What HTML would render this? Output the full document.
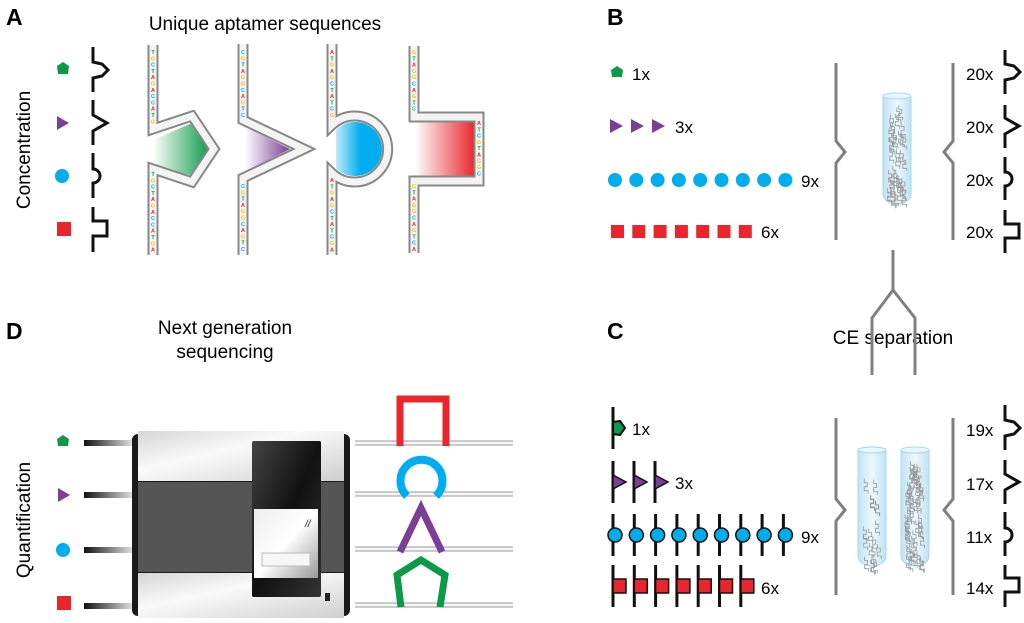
<!DOCTYPE html>
<html><head><meta charset="utf-8"><style>
html,body{margin:0;padding:0;background:#fff}
svg{display:block}
text{font-family:"Liberation Sans",sans-serif}
</style></head><body>
<svg id="s" width="1024" height="623" viewBox="0 0 1024 623" xmlns="http://www.w3.org/2000/svg">
<defs>
<linearGradient id="gG" x1="0" x2="1"><stop offset="0" stop-color="#fff"/><stop offset="1" stop-color="#0a9a48"/></linearGradient>
<linearGradient id="gP" x1="0" x2="1"><stop offset="0" stop-color="#fff"/><stop offset="1" stop-color="#7b3f98"/></linearGradient>
<linearGradient id="gB" x1="0" x2="1"><stop offset="0" stop-color="#fff"/><stop offset=".6" stop-color="#00aeef"/></linearGradient>
<linearGradient id="gR" x1="0" x2="1"><stop offset="0" stop-color="#fff"/><stop offset="1" stop-color="#e8262b"/></linearGradient>
<linearGradient id="bar" x1="0" x2="1"><stop offset="0" stop-color="#111"/><stop offset="1" stop-color="#ddd"/></linearGradient>
<linearGradient id="lg" x1="0" y1="0" x2="1" y2="1"><stop offset="0" stop-color="#d5d5d5"/><stop offset=".4" stop-color="#fafafa"/><stop offset="1" stop-color="#cfcfcf"/></linearGradient>
<linearGradient id="dk" x1="0" y1="0" x2="1" y2="1"><stop offset="0" stop-color="#444"/><stop offset=".5" stop-color="#111"/><stop offset="1" stop-color="#333"/></linearGradient>
<linearGradient id="wt" x1="0" y1="0" x2="1" y2="1"><stop offset="0" stop-color="#eee"/><stop offset=".5" stop-color="#fff"/><stop offset="1" stop-color="#999"/></linearGradient>
<linearGradient id="tube" x1="0" x2="1"><stop offset="0" stop-color="#bfe3f5"/><stop offset=".5" stop-color="#eef8fd"/><stop offset="1" stop-color="#bfe3f5"/></linearGradient>
<clipPath id="cc"><rect x="336" y="100" width="60" height="100"/></clipPath>
</defs>

<text x="6" y="25" font-size="23" font-weight="bold">A</text>
<text x="607" y="25" font-size="23" font-weight="bold">B</text>
<text x="607" y="339" font-size="23" font-weight="bold">C</text>
<text x="6" y="339" font-size="23" font-weight="bold">D</text>
<text x="265" y="30" font-size="19" text-anchor="middle">Unique aptamer sequences</text>
<text transform="translate(30,150) rotate(-90)" font-size="19" text-anchor="middle">Concentration</text>
<text x="225" y="334" font-size="19" text-anchor="middle">Next generation</text>
<text x="225" y="358" font-size="19" text-anchor="middle">sequencing</text>
<text transform="translate(30,520) rotate(-90)" font-size="19" text-anchor="middle">Quantification</text>
<text x="893" y="344" font-size="19" text-anchor="middle">CE separation</text>

<polygon points="57,66 63,62 69,66 68,74 58,74" fill="#0a9a48"/>
<polygon points="57,116 69,123 57,130" fill="#7b3f98"/>
<circle cx="62" cy="176" r="7" fill="#00aeef"/>
<rect x="57" y="222" width="14" height="14" fill="#e8262b"/>
<g fill="none" stroke="#111" stroke-width="3">
<path d="M93,47 V62 L102,64 L108,70 L102,76 L93,78 V92"/>
<path d="M93,100 V115 L107,123 L93,131 V145"/>
<path d="M93,153 V169 A7,7 0 0 1 100,176 A7,7 0 0 1 93,183 V198"/>
<path d="M93,207 V221 H107 V236 H93 V252"/>
</g>

<polygon points="153,140 192,123 210,147 190,175 153,168" fill="url(#gG)"/>
<polygon points="245,127 290,149 245,172" fill="url(#gP)"/>
<circle cx="355" cy="149" r="27" fill="url(#gB)" clip-path="url(#cc)"/>
<rect x="415" y="122" width="60" height="54" fill="url(#gR)"/>
<g fill="none" stroke-linejoin="miter">
<g stroke="#888" stroke-width="11">
<path d="M153,45 V129 L192,116 L214,149 L192,182 L153,169 V255"/>
<path d="M243,44 V120 L304,149 L243,178 V255"/>
<path d="M332,44 V125 A33,33 0 1 1 332,173 V255"/>
<path d="M414,46 V117 H479 V181 H414 V253"/>
</g>
<g stroke="#f4f4f4" stroke-width="7">
<path d="M153,45 V129 L192,116 L214,149 L192,182 L153,169 V255"/>
<path d="M243,44 V120 L304,149 L243,178 V255"/>
<path d="M332,44 V125 A33,33 0 1 1 332,173 V255"/>
<path d="M414,46 V117 H479 V181 H414 V253"/>
</g>
</g>
<g id="letters" font-size="5.5" font-weight="bold" text-anchor="middle"></g>

<polygon points="611,70 617,66 623,70 622,77 612,77" fill="#0a9a48"/>
<text x="632" y="80" font-size="17">1x</text>
<g fill="#7b3f98">
<polygon points="610,119 623,126 610,133"/><polygon points="631,119 644,126 631,133"/><polygon points="652,119 665,126 652,133"/>
</g>
<text x="675" y="133" font-size="17">3x</text>
<g id="bc" fill="#00aeef"></g>
<text x="801" y="187" font-size="17">9x</text>
<g id="bs" fill="#e8262b"></g>
<text x="761" y="238" font-size="17">6x</text>

<g fill="none" stroke="#808080" stroke-width="3">
<path d="M836,63 V141 L845,152 L836,163 V240"/>
<path d="M953,63 V141 L944,152 L953,163 V240"/>
<path d="M893,250 V290 L872,318 V375 M893,290 L915,318 V375"/>
<path d="M836,418 V499 L845,510 L836,521 V595"/>
<path d="M953,418 V499 L944,510 L953,521 V595"/>
</g>
<g>
<path d="M883,96 V194 A14,10 0 0 0 911,194 V96 Z" fill="url(#tube)" stroke="#a9d6ee" stroke-width="1"/>
<ellipse cx="897" cy="96" rx="14" ry="3" fill="#e9f6fc" stroke="#a9d6ee"/>
<path d="M858,450 V556 A14,10 0 0 0 886,556 V450 Z" fill="url(#tube)" stroke="#a9d6ee"/>
<ellipse cx="872" cy="450" rx="14" ry="3" fill="#e9f6fc" stroke="#a9d6ee"/>
<path d="M901,450 V556 A14,10 0 0 0 929,556 V450 Z" fill="url(#tube)" stroke="#a9d6ee"/>
<ellipse cx="915" cy="450" rx="14" ry="3" fill="#e9f6fc" stroke="#a9d6ee"/>
<g id="sq" fill="none" stroke="#999" stroke-width="0.8"></g>
</g>
<g font-size="17">
<text x="966" y="80">20x</text><text x="966" y="133">20x</text><text x="966" y="186">20x</text><text x="966" y="238">20x</text>
<text x="966" y="436">19x</text><text x="966" y="490">17x</text><text x="966" y="543">11x</text><text x="966" y="594">14x</text>
</g>
<g fill="none" stroke="#111" stroke-width="3">
<path d="M1005,50 V64 L1014,66 L1020,72 L1014,78 L1005,80 V94"/>
<path d="M1005,105 V118 L1019,126 L1005,134 V148"/>
<path d="M1005,157 V172 A7,7 0 0 1 1012,179 A7,7 0 0 1 1005,186 V200"/>
<path d="M1005,210 V224 H1019 V238 H1005 V253"/>
<path d="M1005,405 V420 L1014,422 L1020,428 L1014,434 L1005,436 V450"/>
<path d="M1005,460 V474 L1019,482 L1005,490 V504"/>
<path d="M1005,512 V528 A7,7 0 0 1 1012,535 A7,7 0 0 1 1005,542 V556"/>
<path d="M1005,565 V578 H1019 V592 H1005 V607"/>
</g>
<g id="ci"></g>
<text x="632" y="435" font-size="17">1x</text>
<text x="675" y="489" font-size="17">3x</text>
<text x="801" y="543" font-size="17">9x</text>
<text x="761" y="594" font-size="17">6x</text>

<polygon points="57,439 63,435 69,439 68,446 58,446" fill="#0a9a48"/>
<polygon points="58,488 70,495 58,502" fill="#7b3f98"/>
<circle cx="63" cy="550" r="7" fill="#00aeef"/>
<rect x="57" y="596" width="14" height="14" fill="#e8262b"/>
<rect x="84" y="440" width="48" height="6" fill="url(#bar)"/>
<rect x="84" y="492" width="48" height="6" fill="url(#bar)"/>
<rect x="84" y="547" width="48" height="6" fill="url(#bar)"/>
<rect x="84" y="603" width="48" height="6" fill="url(#bar)"/>
<rect x="132" y="434" width="218" height="182" rx="6" fill="#1a1a1a"/>
<rect x="138" y="431" width="206" height="50" fill="url(#lg)"/>
<rect x="138" y="482" width="206" height="90" fill="#555"/>
<rect x="138" y="573" width="206" height="45" fill="url(#lg)"/>
<rect x="252" y="441" width="69" height="156" rx="2" fill="url(#dk)"/>
<rect x="254" y="509" width="64" height="69" fill="url(#wt)"/>
<rect x="262" y="553" width="48" height="13" fill="#f6f6f6" stroke="#bbb"/>
<text x="305" y="527" font-size="10" font-style="italic" fill="#222">//</text>
<rect x="325" y="593" width="5" height="8" fill="#222"/>
<g fill="none">
<g stroke="#999" stroke-width="5">
<path d="M355,443 H513 M355,494 H513 M355,549 H513 M355,605 H513"/>
</g>
<g stroke="#f6f6f6" stroke-width="3">
<path d="M355,443 H513 M355,494 H513 M355,549 H513 M355,605 H513"/>
</g>
<path d="M400,446 V399 H446 V446" stroke="#e8262b" stroke-width="7"/>
<path d="M407,496 A21,21 0 1 1 436,496" stroke="#00aeef" stroke-width="8"/>
<path d="M400,552 L421,508 L442,552" stroke="#7b3f98" stroke-width="7"/>
<path d="M401,607 L397,575 L421,560 L445,575 L440,607" stroke="#0a9a48" stroke-width="7"/>
</g>
</svg>
<script>
var NS="http://www.w3.org/2000/svg";
function el(p,t,a){var e=document.createElementNS(NS,t);for(var k in a)e.setAttribute(k,a[k]);p.appendChild(e);return e;}
var bc=document.getElementById('bc'),bs=document.getElementById('bs'),ci=document.getElementById('ci');
for(var i=0;i<9;i++)el(bc,'circle',{cx:615+i*21.3,cy:180,r:7});
for(var i=0;i<7;i++)el(bs,'rect',{x:611+i*21.3,y:225,width:13,height:13});
function line(x,y){el(ci,'path',{d:'M'+x+','+(y-21)+' V'+(y+21),stroke:'#111','stroke-width':3,fill:'none'});}
line(613,428);el(ci,'polygon',{points:'613,422 620,421 625,428 620,435 613,434',fill:'#0a9a48',stroke:'#111','stroke-width':2});
for(var i=0;i<3;i++){var x=613+i*21;line(x,482);el(ci,'polygon',{points:x+',475 '+(x+13)+',482 '+x+',489',fill:'#7b3f98',stroke:'#111','stroke-width':1.5});}
for(var i=0;i<9;i++){var x=613+i*21.3;line(x,535);el(ci,'circle',{cx:x+2,cy:535,r:7,fill:'#00aeef',stroke:'#111','stroke-width':1.5});}
for(var i=0;i<7;i++){var x=613+i*21.3;line(x,586);el(ci,'rect',{x:x,y:579,width:13,height:14,fill:'#e8262b',stroke:'#111','stroke-width':1.5});}
var sq=document.getElementById('sq');
function squig(cx,y0,y1,n,w){var s='';for(var i=0;i<n;i++){var x=cx-w+Math.random()*2*w,y=y0+Math.random()*(y1-y0);s+='M'+x.toFixed(1)+','+y.toFixed(1)+' v4 h3 v4 h-3 v4 h4 v3 ';}el(sq,'path',{d:s});}
squig(895,105,195,40,8);squig(870,470,560,18,8);squig(913,460,560,55,8);
var L=document.getElementById('letters'),C={A:'#e8262b',C:'#00aeef',G:'#f2c500',T:'#0a9a48'},seq='TCGATCGTAGGCAGTCATGCTAGACCATGAGCTA';
function vcol(x,y0,y1){var k=0;for(var y=y0;y<y1;y+=6.3){var c=seq[(k++ + x)%seq.length];var t=el(L,'text',{x:x,y:y,fill:C[c]});t.textContent=c;}}
vcol(153,54,126);vcol(153,176,252);vcol(243,54,118);vcol(243,188,252);vcol(332,54,122);vcol(332,182,252);vcol(414,54,116);vcol(414,188,252);vcol(479,125,180);
</script>
</body></html>
